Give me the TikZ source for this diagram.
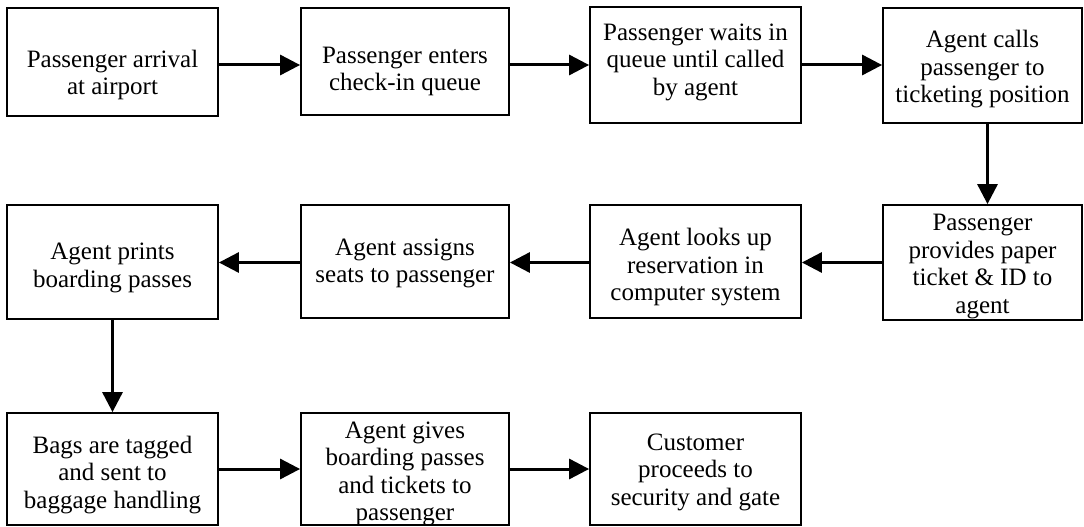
\documentclass[tikz,border=0pt]{standalone}
\usepackage{fontspec}
\setmainfont{Liberation Serif}
\usetikzlibrary{arrows.meta}
\begin{document}
\begin{tikzpicture}[x=1pt,y=-1pt,
  box/.style={draw=black, line width=1.8pt, inner sep=0pt},
  txt/.style={align=center, inner sep=0pt, font=\fontsize{25}{27.5}\selectfont},
  arr/.style={line width=3pt, -{Triangle[length=20pt,width=20pt]}}]
\useasboundingbox (0,0) rectangle (1084,527);

% first row
\node[box, minimum width=211pt, minimum height=108pt] (b1) at (112.5,62) {};
\node[box, minimum width=208pt, minimum height=107pt] (b2) at (405,61.5) {};
\node[box, minimum width=211pt, minimum height=116pt] (b3) at (695.5,65) {};
\node[box, minimum width=199pt, minimum height=115pt] (b4) at (982.5,65.5) {};
% second row
\node[box, minimum width=199pt, minimum height=115pt] (b5) at (982.5,262.5) {};
\node[box, minimum width=211pt, minimum height=113pt] (b6) at (695.5,261.5) {};
\node[box, minimum width=208pt, minimum height=113pt] (b7) at (405,261.5) {};
\node[box, minimum width=211pt, minimum height=114pt] (b8) at (112.5,262) {};
% third row
\node[box, minimum width=211pt, minimum height=112pt] (b9) at (112.5,469) {};
\node[box, minimum width=208pt, minimum height=112pt] (b10) at (405,469) {};
\node[box, minimum width=211pt, minimum height=112pt] (b11) at (695.5,469) {};

% labels
\node[txt] (t1) at ([yshift=-13pt]b1.center) {Passenger arrival\\at airport};
\node[txt] (t2) at ([yshift=-10pt]b2.center) {Passenger enters\\check-in queue};
\node[txt] (t3) at ([yshift=3pt]b3.center) {Passenger waits in\\queue until called\\by agent};
\node[txt] (t4) at ([yshift=-4pt]b4.center) {Agent calls\\passenger to\\ticketing position};
\node[txt] (t5) at ([yshift=-4pt]b5.center) {Passenger\\provides paper\\ticket \& ID to\\agent};
\node[txt] (t6) at ([yshift=-6pt]b6.center) {Agent looks up\\reservation in\\computer system};
\node[txt] (t7) at ([yshift=-2pt]b7.center) {Agent assigns\\seats to passenger};
\node[txt] (t8) at ([yshift=-6pt]b8.center) {Agent prints\\boarding passes};
\node[txt] (t9) at ([yshift=-6pt]b9.center) {Bags are tagged\\and sent to\\baggage handling};
\node[txt] (t10) at ([yshift=-5pt]b10.center) {Agent gives\\boarding passes\\and tickets to\\passenger};
\node[txt] (t11) at ([yshift=-3pt]b11.center) {Customer\\proceeds to\\security and gate};

% connectors
\draw[arr] (b1.east |- b3.center) -- (b2.west |- b3.center);
\draw[arr] (b2.east |- b3.center) -- (b3.west);
\draw[arr] (b3.east) -- (b4.west |- b3.center);
\draw[arr] ([xshift=5pt]b4.south) -- ([xshift=5pt]b5.north);
\draw[arr] (b5.west) -- (b6.east |- b5.west);
\draw[arr] (b6.west |- b5.west) -- (b7.east |- b5.west);
\draw[arr] (b7.west |- b5.west) -- (b8.east |- b5.west);
\draw[arr] (b8.south) -- (b9.north);
\draw[arr] (b9.east) -- (b10.west |- b9.east);
\draw[arr] (b10.east |- b9.east) -- (b11.west |- b9.east);
\end{tikzpicture}
\end{document}
